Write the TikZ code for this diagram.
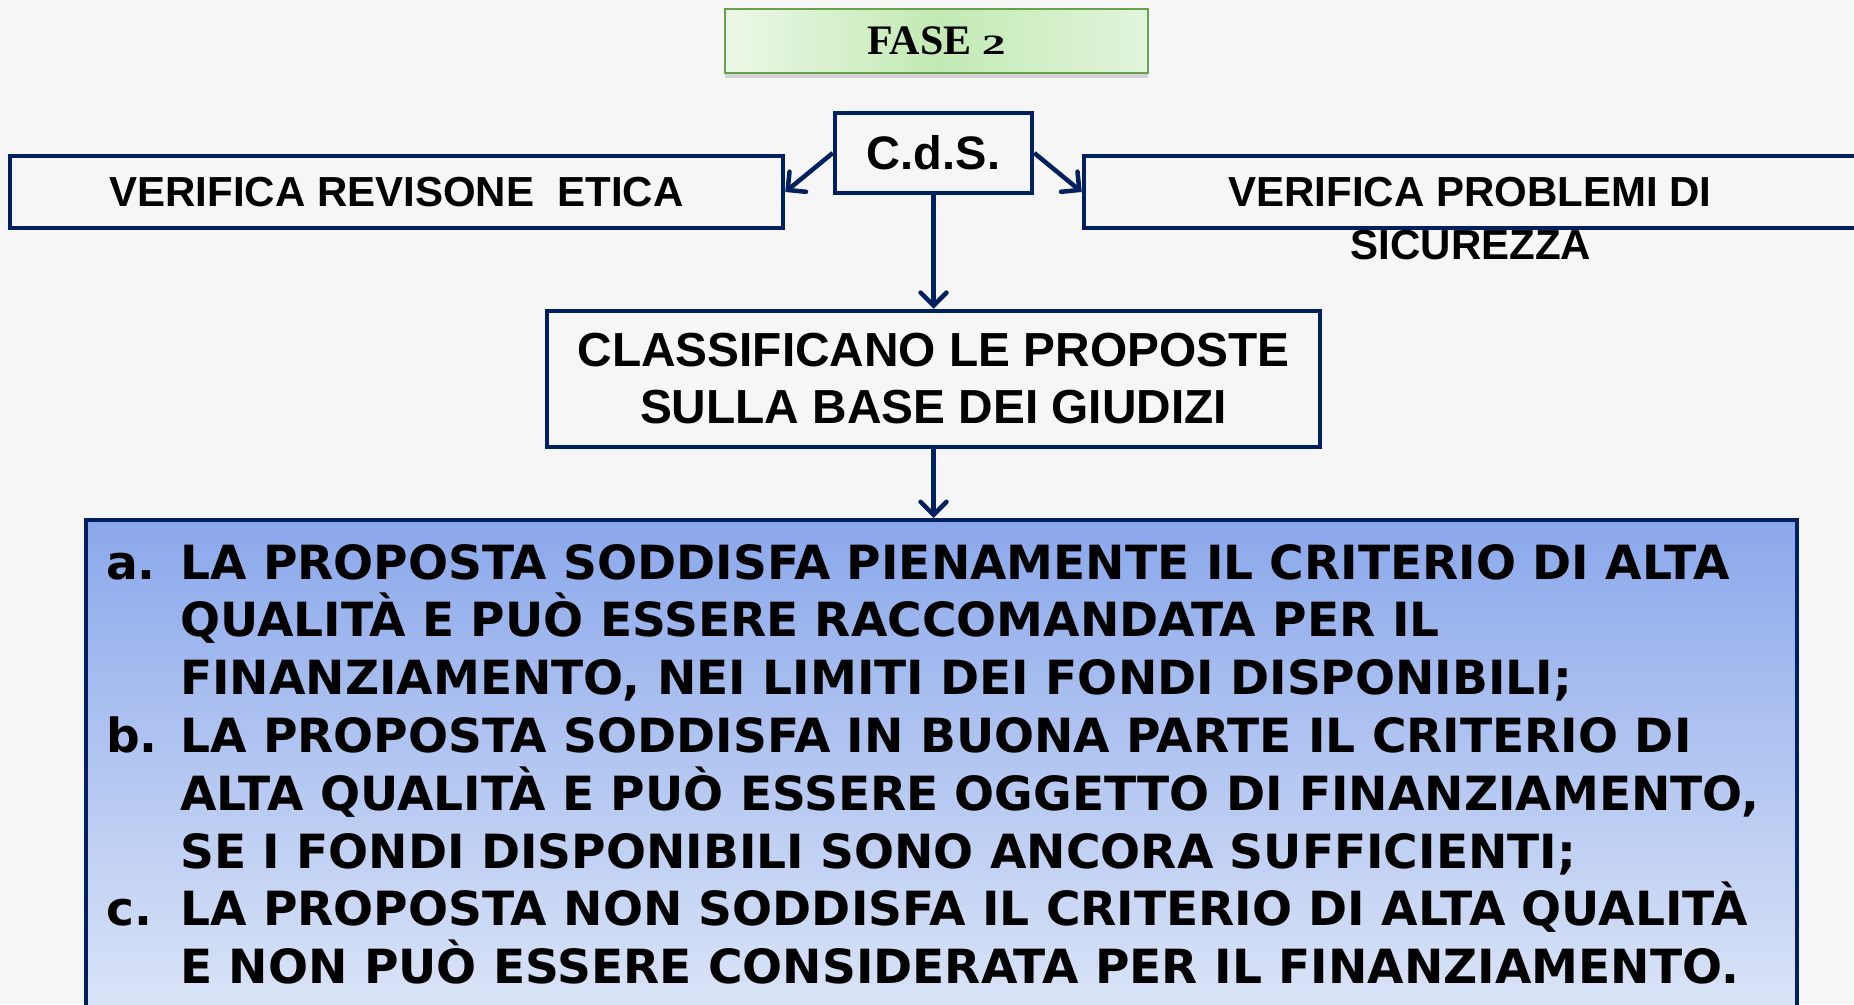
\documentclass[tikz,border=0pt]{standalone}
\usepackage{fontspec}
\newfontfamily\arialfont{Liberation Sans}
\newfontfamily\comicfont{DejaVu Sans}
\newfontfamily\timesfont{Liberation Serif}
\usetikzlibrary{arrows.meta,shadows}
\definecolor{navy}{RGB}{0,32,96}
\definecolor{paper}{RGB}{246,246,246}
\definecolor{faseline}{RGB}{104,162,80}
\definecolor{faseL}{RGB}{236,248,231}
\definecolor{faseM}{RGB}{194,234,180}
\definecolor{faseR}{RGB}{226,245,219}
\definecolor{crittop}{RGB}{139,168,235}
\definecolor{critbot}{RGB}{222,231,248}
\tikzset{
  frame/.style = {draw=navy, line width=4.5pt, inner sep=0pt, align=center,
                  font=\arialfont\bfseries\fontsize{42}{50}\selectfont},
  arr/.style   = {-{Straight Barb[length=13pt,width=26pt,line cap=round]},
                  line width=4.5pt, navy}
}
\newcommand{\lab}[1]{\makebox[74pt][l]{#1}}
\newcommand{\ind}{\hspace*{74pt}}

\begin{document}
\begin{tikzpicture}[x=1pt,y=-1pt,
    fase/.style={draw=faseline, line width=2pt, minimum width=423pt,
                 minimum height=64pt, left color=faseL, right color=faseR,
                 middle color=faseM,
                 drop shadow={shadow xshift=0pt, shadow yshift=-5pt, opacity=.3},
                 font=\timesfont\fontsize{42}{46}\selectfont\bfseries},
    crit/.style={draw=navy, line width=4pt, minimum width=1711pt,
                 minimum height=510pt, top color=crittop, bottom color=critbot},
    crittxt/.style={inner sep=0pt, anchor=north west, align=left,
                 font=\comicfont\bfseries\fontsize{47.1}{57.8}\selectfont}
  ]
    \useasboundingbox (0,0) rectangle (1854,1004);
    \fill[paper] (0,0) rectangle (1854,1004);

    \node[fase](fase) at (936.5,41) {FASE {\fontsize{28}{28}\selectfont\scalebox{1.7}[1]{2}}};

    \node[frame, minimum width=197pt, minimum height=80pt,
          font=\arialfont\bfseries\fontsize{47}{56}\selectfont](cds) at (933.5,153) {C.d.S.};
    \node[frame, minimum width=773pt, minimum height=72pt](eth) at (396.5,192) {VERIFICA REVISONE\ \ ETICA};
    \node[frame, minimum width=772pt, minimum height=72pt](sec) at (1470,192) {VERIFICA PROBLEMI DI};
    \node[font=\arialfont\bfseries\fontsize{42}{50}\selectfont, inner sep=0pt](sec2) at (1471,245) {SICUREZZA};

    \node[frame, minimum width=773pt, minimum height=136pt,
          font=\arialfont\bfseries\fontsize{47.8}{57}\selectfont](cls) at (933.5,379)
          {CLASSIFICANO LE PROPOSTE\\SULLA BASE DEI GIUDIZI};

    \node[crit](crit) at (941.5,775) {};
    \node[crittxt](crittext) at (106,544) {%
      \lab{a.}LA PROPOSTA SODDISFA PIENAMENTE IL CRITERIO DI ALTA\\
      \ind QUALITÀ E PUÒ ESSERE RACCOMANDATA PER IL\\
      \ind FINANZIAMENTO, NEI LIMITI DEI FONDI DISPONIBILI;\\
      \lab{b.}LA PROPOSTA SODDISFA IN BUONA PARTE IL CRITERIO DI\\
      \ind ALTA QUALITÀ E PUÒ ESSERE OGGETTO DI FINANZIAMENTO,\\
      \ind SE I FONDI DISPONIBILI SONO ANCORA SUFFICIENTI;\\
      \lab{c.}LA PROPOSTA NON SODDISFA IL CRITERIO DI ALTA QUALITÀ\\
      \ind E NON PUÒ ESSERE CONSIDERATA PER IL FINANZIAMENTO.};

    \draw[arr](cds.west)--(eth.east);
    \draw[arr](cds.east)--(sec.west);
    \draw[arr](cds)--(cls);
    \draw[arr](cls)--(cls.south |- crit.north);
  \end{tikzpicture}
\end{document}
